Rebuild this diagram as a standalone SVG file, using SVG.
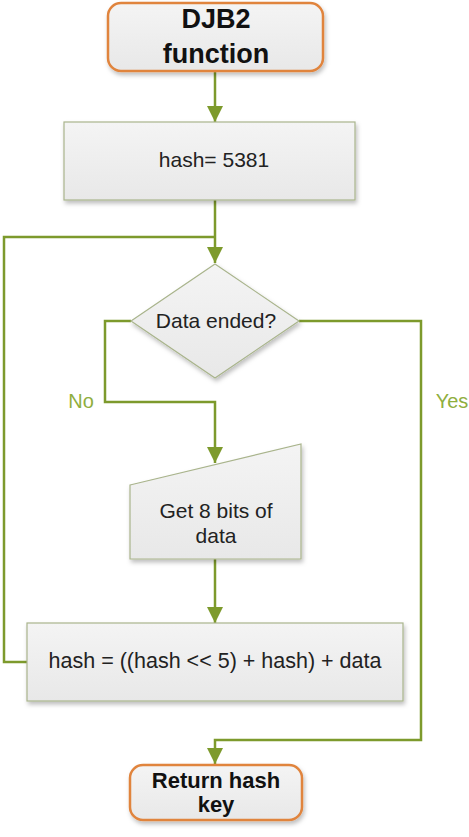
<svg xmlns="http://www.w3.org/2000/svg" width="469" height="837" viewBox="0 0 469 837">
<defs>
  <linearGradient id="g" x1="0" y1="0" x2="0" y2="1">
    <stop offset="0" stop-color="#f4f4f4"/>
    <stop offset="1" stop-color="#e8e8e8"/>
  </linearGradient>
  <filter id="sh" x="-10%" y="-10%" width="130%" height="140%">
    <feDropShadow dx="1.5" dy="3" stdDeviation="2" flood-color="#000" flood-opacity="0.25"/>
  </filter>
  <marker id="arr" viewBox="0 0 16 16" markerWidth="16" markerHeight="16" refX="16" refY="8" orient="auto" markerUnits="userSpaceOnUse">
    <path d="M0,0 L16,8 L0,16 Z" fill="#7d9a2c"/>
  </marker>
</defs>
<style>
  .term { fill: url(#g); stroke: #e0843e; stroke-width: 2.5; filter: url(#sh); }
  .proc { fill: url(#g); stroke: #a9b48c; stroke-width: 1.2; filter: url(#sh); }
  .edge { fill: none; stroke: #7d9a2c; stroke-width: 2.5; }
  .t { font-family: "Liberation Sans", Arial, sans-serif; fill: #222; text-anchor: middle; font-size: 21px; }
  .tb { font-family: "Liberation Sans", Arial, sans-serif; fill: #111; text-anchor: middle; font-weight: bold; }
  .lbl { font-family: "Liberation Sans", Arial, sans-serif; fill: #8fae3e; font-size: 20px; text-anchor: middle; }
</style>
<g id="connectors">
  <path class="edge" d="M215,71 V122" marker-end="url(#arr)"/>
  <path class="edge" d="M215,200 V263" marker-end="url(#arr)"/>
  <path class="edge" d="M131,321 H105 V402 H215 V463" marker-end="url(#arr)"/>
  <path class="edge" d="M215,559 V623" marker-end="url(#arr)"/>
  <path class="edge" d="M27,662 H4 V237 H215"/>
  <path class="edge" d="M299,321 H421 V740 H215 V764" marker-end="url(#arr)"/>
  <text class="lbl" x="81" y="408">No</text>
  <text class="lbl" x="452" y="408">Yes</text>
</g>
<g id="start">
  <rect class="term" x="108" y="3" width="215" height="68" rx="13"/>
  <text class="tb" x="216" y="28" font-size="27">DJB2</text>
  <text class="tb" x="216" y="63" font-size="27">function</text>
</g>
<g id="init">
  <rect class="proc" x="64" y="122" width="291" height="78"/>
  <text class="t" x="214" y="167" font-size="20">hash= 5381</text>
</g>
<g id="decision">
  <polygon class="proc" points="215,264 299,321 215,378 131,321"/>
  <text class="t" x="216" y="328">Data ended?</text>
</g>
<g id="input">
  <polygon class="proc" points="130,485 301,444 301,559 130,559"/>
  <text class="t" x="216" y="518">Get 8 bits of</text>
  <text class="t" x="216" y="543">data</text>
</g>
<g id="update">
  <rect class="proc" x="27" y="623" width="376" height="78"/>
  <text class="t" x="215" y="668" style="font-size:21.5px">hash = ((hash &lt;&lt; 5) + hash) + data</text>
</g>
<g id="end">
  <rect class="term" x="130" y="765" width="172" height="55" rx="13"/>
  <text class="tb" x="216" y="788" font-size="22">Return hash</text>
  <text class="tb" x="216" y="812" font-size="22">key</text>
</g>
</svg>
